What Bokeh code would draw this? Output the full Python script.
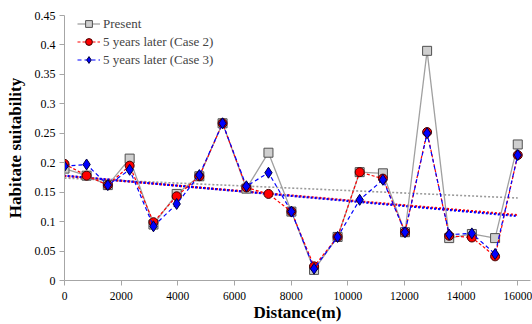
import numpy as np
from bokeh.plotting import figure
from bokeh.models import Range1d, FixedTicker, Legend, LegendItem
from bokeh.embed import file_html
from bokeh.resources import INLINE

distance = [0, 780, 1530, 2300, 3140, 3960, 4760, 5580, 6420, 7200, 8010,
            8810, 9640, 10420, 11240, 12020, 12800, 13580, 14380, 15200, 16000]
present = [0.190, 0.178, 0.162, 0.207, 0.095, 0.147, 0.177, 0.267, 0.156, 0.217, 0.117,
           0.018, 0.074, 0.184, 0.182, 0.082, 0.390, 0.072, 0.079, 0.072, 0.231]
case2 = [0.198, 0.178, 0.162, 0.195, 0.099, 0.143, 0.177, 0.267, 0.158, 0.147, 0.117,
         0.024, 0.074, 0.184, 0.173, 0.082, 0.252, 0.076, 0.073, 0.041, 0.213]
case3 = [0.194, 0.197, 0.162, 0.188, 0.092, 0.130, 0.179, 0.267, 0.160, 0.183, 0.117,
         0.020, 0.074, 0.137, 0.171, 0.082, 0.250, 0.078, 0.080, 0.045, 0.213]
y_ticks = [0, 0.05, 0.1, 0.15, 0.2, 0.25, 0.3, 0.35, 0.4, 0.45]
y_tick_labels = ["0", "0.05", "0.1", "0.15", "0.2", "0.25", "0.3", "0.35", "0.4", "0.45"]
x_ticks = [0, 2000, 4000, 6000, 8000, 10000, 12000, 14000, 16000]

FONT = "Liberation Serif"

p = figure(width=532, height=324, output_backend="svg", toolbar_location=None,
           x_range=Range1d(0, 16450), y_range=Range1d(0, 0.45),
           min_border_left=64, min_border_right=2, min_border_top=15, min_border_bottom=44)
p.outline_line_color = None
p.xgrid.visible = False
p.ygrid.visible = False

for ax in (p.xaxis[0], p.yaxis[0]):
    ax.axis_line_color = "#a6a6a6"
    ax.major_tick_line_color = "#a6a6a6"
    ax.minor_tick_line_color = None
    ax.major_tick_in = 0
    ax.major_tick_out = 5
    ax.major_label_text_font = FONT
    ax.major_label_text_color = "#000000"
    ax.axis_label_text_font = FONT
    ax.axis_label_text_font_style = "bold"
    ax.axis_label_text_color = "#000000"

p.yaxis[0].ticker = FixedTicker(ticks=y_ticks)
p.yaxis[0].major_label_overrides = {t: s for t, s in zip(y_ticks, y_tick_labels)}
p.yaxis[0].major_label_text_font_size = "12px"
p.yaxis[0].major_label_standoff = 4
p.yaxis[0].axis_label = "Habitate suitability"
p.yaxis[0].axis_label_text_font_size = "17px"
p.yaxis[0].axis_label_standoff = 7
p.xaxis[0].ticker = FixedTicker(ticks=x_ticks)
p.xaxis[0].major_label_text_font_size = "11.5px"
p.xaxis[0].major_label_standoff = 6
p.xaxis[0].axis_label = "Distance(m)"
p.xaxis[0].axis_label_text_font_size = "17px"
p.xaxis[0].axis_label_standoff = 0

# linear trend lines (computed from the series)
xs = np.array(distance, dtype=float)
tx = [0, 16000]
for series, color, width, dash, off in ((present, "#9a9a9a", 1.6, "2 2", 0),
                                        (case2, "red", 2.2, "2 2", 0),
                                        (case3, "blue", 2.2, "2 2", 1)):
    a, b = np.polyfit(xs, np.array(series), 1)
    p.line(tx, [a * t + b for t in tx], line_color=color, line_width=width,
           line_dash=dash, line_dash_offset=off)

l1 = p.line(distance, present, line_color="#a0a0a0", line_width=1.3)
s1 = p.scatter(distance, present, marker="square", size=9, fill_color="#cfcfcf",
               line_color="#505050", line_width=1)
l2 = p.line(distance, case2, line_color="red", line_width=1.2, line_dash="3 2")
s2 = p.scatter(distance, case2, marker="circle", size=9, fill_color="red",
               line_color="#400000", line_width=1)
l3 = p.line(distance, case3, line_color="blue", line_width=1.2, line_dash="4 3")
s3 = p.scatter(distance, case3, marker="diamond", size=11, fill_color="blue",
               line_color="#000040", line_width=1)

legend = Legend(items=[
    LegendItem(label="Present", renderers=[l1, s1]),
    LegendItem(label="5 years later (Case 2)", renderers=[l2, s2]),
    LegendItem(label="5 years later (Case 3)", renderers=[l3, s3]),
], location=(13, 212))
legend.background_fill_alpha = 0
legend.border_line_color = None
legend.padding = 0
legend.margin = 0
legend.spacing = 1
legend.glyph_width = 23
legend.glyph_height = 17
legend.label_standoff = 3
legend.label_text_font = FONT
legend.label_text_font_size = "13px"
legend.label_height = 17
p.add_layout(legend)

open("out.html", "w").write(file_html(p, INLINE))
